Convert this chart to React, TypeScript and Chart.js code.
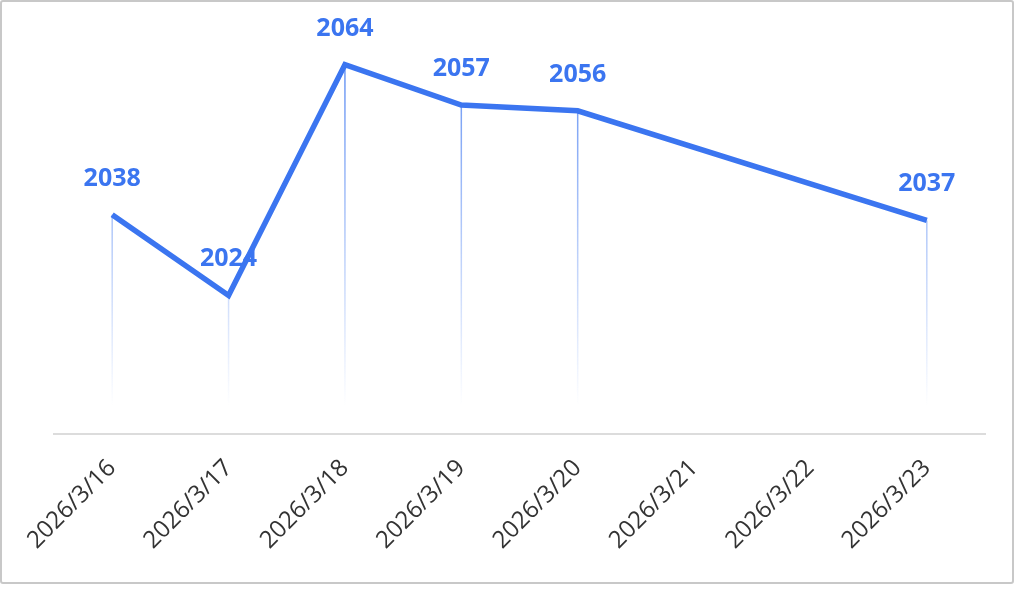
import React, { useEffect, useRef } from "react";
import { Chart, registerables } from "chart.js";

Chart.register(...registerables);

const categories = [
  "2026/3/16",
  "2026/3/17",
  "2026/3/18",
  "2026/3/19",
  "2026/3/20",
  "2026/3/21",
  "2026/3/22",
  "2026/3/23",
];
const values: (number | null)[] = [2038, 2024, 2064, 2057, 2056, null, null, 2037];
const yMin = 2000;
const yMax = 2070;

const BLUE = "rgb(59,117,240)";

const dropLines = {
  id: "dropLines",
  beforeDatasetsDraw(chart: any) {
    const { ctx, chartArea } = chart;
    const meta = chart.getDatasetMeta(0);
    const grad = ctx.createLinearGradient(0, chartArea.top, 0, chartArea.bottom - 28);
    grad.addColorStop(0, "rgba(59,117,240,0.85)");
    grad.addColorStop(1, "rgba(59,117,240,0)");
    ctx.save();
    ctx.strokeStyle = grad;
    ctx.lineWidth = 1.5;
    meta.data.forEach((pt: any, i: number) => {
      if (values[i] == null) return;
      ctx.beginPath();
      ctx.moveTo(pt.x, pt.y);
      ctx.lineTo(pt.x, chartArea.bottom - 28);
      ctx.stroke();
    });
    ctx.restore();
  },
};

const valueLabels = {
  id: "valueLabels",
  afterDatasetsDraw(chart: any) {
    const { ctx } = chart;
    const meta = chart.getDatasetMeta(0);
    ctx.save();
    ctx.fillStyle = BLUE;
    ctx.font = "bold 25px 'Open Sans'";
    ctx.textAlign = "center";
    ctx.textBaseline = "alphabetic";
    meta.data.forEach((pt: any, i: number) => {
      const v = values[i];
      if (v == null) return;
      ctx.fillText(String(v), pt.x, pt.y - 29);
    });
    ctx.restore();
  },
};

export default function App() {
  const ref = useRef<HTMLCanvasElement>(null);
  useEffect(() => {
    if (!ref.current) return;
    const chart = new Chart(ref.current, {
      type: "line",
      data: {
        labels: categories,
        datasets: [
          {
            data: values,
            borderColor: BLUE,
            borderWidth: 5.5,
            pointRadius: 0,
            pointHoverRadius: 0,
            tension: 0,
            spanGaps: true,
            borderJoinStyle: "miter",
            fill: false,
          },
        ],
      },
      options: {
        animation: false,
        responsive: false,
        devicePixelRatio: 1,
        layout: { padding: { left: 52, right: 27, top: 28, bottom: 0 } },
        plugins: { legend: { display: false }, tooltip: { enabled: false } },
        scales: {
          x: {
            offset: true,
            grid: { display: false, drawTicks: false },
            border: { display: true, color: "#dcdcdc", width: 2 },
            ticks: {
              minRotation: 45,
              maxRotation: 45,
              padding: 20,
              color: "#333",
              font: { family: "'Open Sans'", size: 24 },
            },
            afterFit(scale: any) {
              scale.height = 148;
            },
          },
          y: {
            display: false,
            min: yMin,
            max: yMax,
          },
        },
      },
      plugins: [dropLines, valueLabels],
    });
    return () => chart.destroy();
  }, []);
  return (
    <div
      style={{
        position: "absolute",
        left: 0,
        top: 0,
        width: 1014,
        height: 584,
        boxSizing: "border-box",
        border: "2px solid #c8c8c8",
        borderRadius: 3,
        background: "#fff",
      }}
    >
      <canvas ref={ref} width={1010} height={580} style={{ display: "block" }} />
    </div>
  );
}
